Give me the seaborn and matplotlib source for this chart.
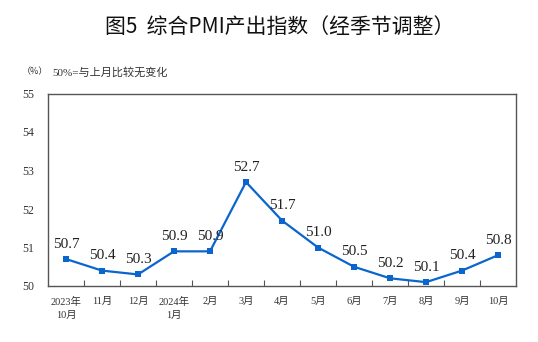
import matplotlib
matplotlib.use("Agg")
import matplotlib.pyplot as plt
import seaborn as sns
import pandas as pd

months = ["2023年\n10月", "11月", "12月", "2024年\n1月", "2月", "3月", "4月",
          "5月", "6月", "7月", "8月", "9月", "10月"]
pmi = [50.7, 50.4, 50.3, 50.9, 50.9, 52.7, 51.7, 51.0, 50.5, 50.2, 50.1, 50.4, 50.8]
y_ticks = [50, 51, 52, 53, 54, 55]

sns.set_theme(style="white")
plt.rcParams["font.family"] = ["Liberation Serif", "Noto Sans CJK SC"]

df = pd.DataFrame({"idx": range(len(months)), "pmi": pmi})

fig = plt.figure(figsize=(5.38, 3.42), dpi=100)
ax = fig.add_axes([48 / 538, 1 - 286 / 342, (516 - 48) / 538, (286 - 93.5) / 342])

line_color = "#0a66cc"
sns.lineplot(data=df, x="idx", y="pmi", ax=ax, color=line_color, linewidth=1.6,
             marker="s", markersize=5, markeredgewidth=0, markerfacecolor=line_color)

for i, v in enumerate(pmi):
    ax.annotate(f"{v:.1f}", (i, v), xytext=(0, 6), textcoords="offset points",
                ha="center", va="bottom", fontsize=11, color="#222222",
                family=["Liberation Serif"])

ax.set_xlim(-0.5, len(months) - 0.5)
ax.set_ylim(50, 55)
ax.set_yticks(y_ticks)
ax.set_yticklabels([str(t) for t in y_ticks], fontsize=8.5, color="#333333",
                   family=["Liberation Serif"])
ax.set_xticks(range(len(months)))
ax.set_xticklabels(months, fontsize=7.5, color="#333333",
                   family=["Liberation Serif", "Noto Sans CJK SC"], linespacing=1.5)
ax.tick_params(axis="x", length=0, pad=8)
ax.tick_params(axis="y", length=0, pad=10)
# boundary ticks between months, pointing up from the bottom spine
ax.set_xticks([i + 0.5 for i in range(len(months) - 1)], minor=True)
ax.tick_params(axis="x", which="minor", direction="in", length=4, width=0.8,
               color="#555555", bottom=True)
ax.set_xlabel("")
ax.set_ylabel("")
for s in ax.spines.values():
    s.set_color("#555555")
    s.set_linewidth(1.0)
ax.grid(False)

fig.text(280 / 538, 1 - 27 / 342, "图5  综合PMI产出指数（经季节调整）", ha="center", va="center",
         fontsize=15, color="#111111", family=["Noto Sans CJK SC"])
fig.text(22 / 538, 1 - 72 / 342, "（%）", ha="left", va="center", fontsize=6.5,
         color="#333333", family=["Noto Sans CJK SC"])
fig.text(52 / 538, 1 - 72 / 342, "50%=与上月比较无变化", ha="left", va="center",
         fontsize=8, color="#333333", family=["Liberation Serif", "Noto Sans CJK SC"])

fig.savefig("out.png", dpi=100)
